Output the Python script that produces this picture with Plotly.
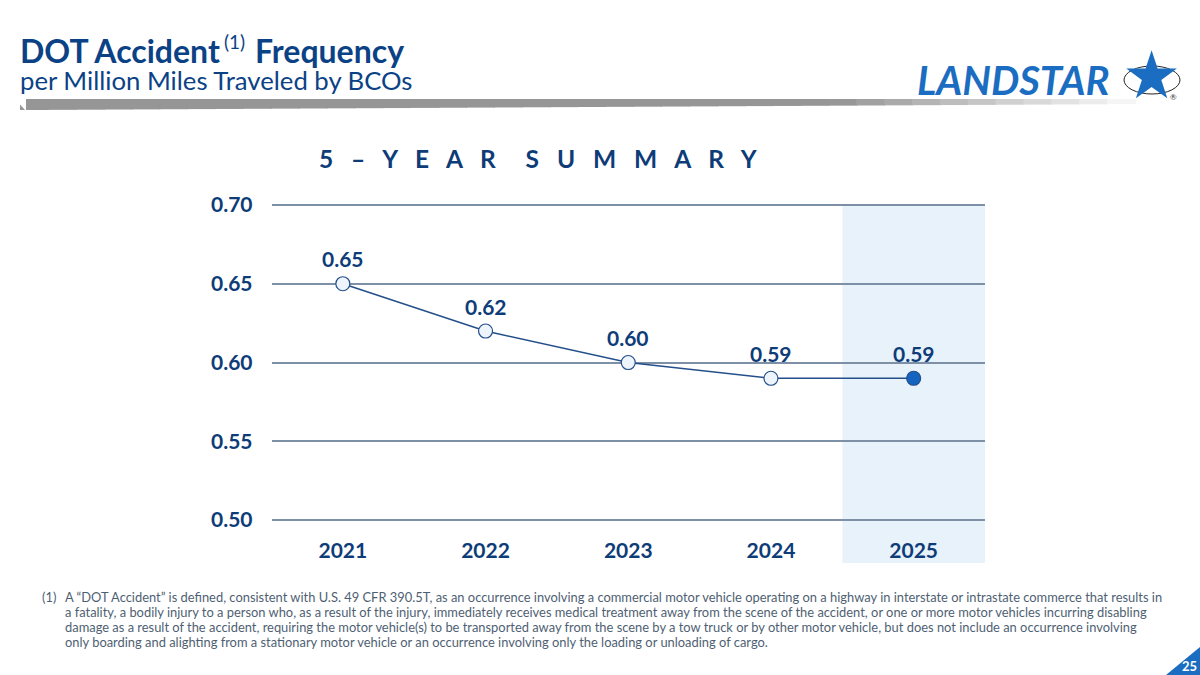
import plotly.graph_objects as go

# data
years = ["2021", "2022", "2023", "2024", "2025"]
frequency = [0.65, 0.62, 0.60, 0.59, 0.59]
labels = ["0.65", "0.62", "0.60", "0.59", "0.59"]
y_ticks = [0.50, 0.55, 0.60, 0.65, 0.70]

footnote_lines = [
    "A \u201cDOT Accident\u201d is defined, consistent with U.S. 49 CFR 390.5T, as an occurrence involving a commercial motor vehicle operating on a highway in interstate or intrastate commerce that results in",
    "a fatality, a bodily injury to a person who, as a result of the injury, immediately receives medical treatment away from the scene of the accident, or one or more motor vehicles incurring disabling",
    "damage as a result of the accident, requiring the motor vehicle(s) to be transported away from the scene by a tow truck or by other motor vehicle, but does not include an occurrence involving",
    "only boarding and alighting from a stationary motor vehicle or an occurrence involving only the loading or unloading of cargo.",
]

W, H = 1200, 675
NAVY = "#0d3c78"
LINE = "#244f8a"
BLUE = "#1b6dc1"
FONT = "Lato"


def px(x):
    return x / W


def py(y):
    return 1 - y / H


fig = go.Figure()

# open markers for history, filled marker for the current year
fills = ["#eef4fb"] * (len(years) - 1) + ["#1565c0"]
fig.add_trace(go.Scatter(
    x=years, y=frequency, mode="lines+markers",
    line=dict(color=LINE, width=1.5),
    marker=dict(size=14, color=fills, line=dict(color=LINE, width=1.2)),
    hoverinfo="skip", showlegend=False,
))

# value labels (category index as x position)
for i, (v, t) in enumerate(zip(frequency, labels)):
    fig.add_annotation(x=i, y=v, text=f"<b>{t}</b>", showarrow=False,
                       yshift=25, font=dict(family=FONT, size=21, color=NAVY))

shapes = []
# highlight band behind 2025
shapes.append(dict(type="rect", xref="x", yref="paper", x0=3.5, x1=4.5,
                   y0=py(563), y1=py(205), fillcolor="#e8f2fb", line_width=0, layer="below"))

# grey swoosh under the title
n = 40
x_start, x_end = 20, 1135
for i in range(n):
    xa = x_start + (x_end - x_start) * i / n
    xb = x_start + (x_end - x_start) * (i + 1) / n + 1
    f = i / n
    g = int(150 + 105 * max(0, (f - 0.72) / 0.28))
    thick = 11 - 6 * f
    shapes.append(dict(type="rect", xref="paper", yref="paper",
                       x0=px(xa), x1=px(xb), y0=py(99 + thick), y1=py(99),
                       fillcolor=f"rgb({g},{g},{g})", line_width=0))
shapes.append(dict(type="path", xref="paper", yref="paper",
                   path=f"M {px(14)} {py(98)} L {px(26)} {py(98)} L {px(26)} {py(111)} Z",
                   fillcolor="white", line_width=0))

# logo ellipse
shapes.append(dict(type="circle", xref="paper", yref="paper",
                   x0=px(1124), x1=px(1180), y0=py(94), y1=py(66),
                   line=dict(color="#222222", width=1), fillcolor="rgba(0,0,0,0)"))

# page number triangle
shapes.append(dict(type="path", xref="paper", yref="paper",
                   path=f"M {px(1166)} {py(675)} L {px(1200)} {py(647)} L {px(1200)} {py(675)} Z",
                   fillcolor=BLUE, line_width=0))

fig.update_layout(shapes=shapes)

# title block (pieces so the footnote marker sits high)
fig.add_annotation(xref="paper", yref="paper", x=px(18), y=py(50), xanchor="left", yanchor="middle",
                   text="<b>DOT Accident</b>", showarrow=False,
                   font=dict(family=FONT, size=32, color="#0b4286"))
fig.add_annotation(xref="paper", yref="paper", x=px(222), y=py(42), xanchor="left", yanchor="middle",
                   text="(1)", showarrow=False,
                   font=dict(family=FONT, size=19, color="#0b4286"))
fig.add_annotation(xref="paper", yref="paper", x=px(253), y=py(50), xanchor="left", yanchor="middle",
                   text="<b>Frequency</b>", showarrow=False,
                   font=dict(family=FONT, size=32, color="#0b4286"))
fig.add_annotation(xref="paper", yref="paper", x=px(18), y=py(80), xanchor="left", yanchor="middle",
                   text="per Million Miles Traveled by BCOs",
                   showarrow=False, font=dict(family=FONT, size=25.7, color="#0b4286"))

# logo
fig.add_annotation(xref="paper", yref="paper", x=px(1112), y=py(80), xanchor="right", yanchor="middle",
                   text="<b><i>LANDSTAR</i></b>", showarrow=False,
                   font=dict(family=FONT, size=40, color=BLUE, weight=900))
fig.add_annotation(xref="paper", yref="paper", x=px(1151), y=py(75), xanchor="center", yanchor="middle",
                   text="\u2605", showarrow=False,
                   font=dict(family="DejaVu Sans", size=66, color=BLUE))
fig.add_annotation(xref="paper", yref="paper", x=px(1173), y=py(97), xanchor="center", yanchor="middle",
                   text="\u00ae", showarrow=False, font=dict(family=FONT, size=8, color="#333333"))

# chart heading, letter-spaced
sp = "\u00a0" * 3
heading = sp.join("5\u2013YEAR") + "\u00a0" * 5 + sp.join("SUMMARY")
fig.add_annotation(xref="paper", yref="paper", x=px(538), y=py(159), xanchor="center", yanchor="middle",
                   text=f"<b>{heading}</b>", showarrow=False,
                   font=dict(family=FONT, size=24.5, color=NAVY))

# footnote
fig.add_annotation(xref="paper", yref="paper", x=px(40), y=py(597), xanchor="left", yanchor="middle",
                   text="(1)", showarrow=False, font=dict(family=FONT, size=12.9, color="#4f5f73"))
for i, line in enumerate(footnote_lines):
    fig.add_annotation(xref="paper", yref="paper", x=px(63), y=py(597 + 15 * i),
                       xanchor="left", yanchor="middle", text=line, showarrow=False,
                       font=dict(family=FONT, size=12.9, color="#4f5f73"))

# page number
fig.add_annotation(xref="paper", yref="paper", x=px(1189), y=py(666), xanchor="center", yanchor="middle",
                   text="<b>25</b>", showarrow=False, font=dict(family=FONT, size=13, color="white"))

# pixel scale: 315 px per 0.20, pad range a hair so edge gridlines draw
pad = 0.001
fig.update_xaxes(
    domain=[px(271.5), px(985)], range=[-0.5, 4.5], type="category",
    showgrid=False, zeroline=False, showline=False, ticks="", automargin=False,
    tickfont=dict(family=FONT, size=21, color=NAVY, weight="bold"),
    ticklabelstandoff=14, fixedrange=True,
)
fig.update_yaxes(
    domain=[py(520 + pad * 1575), py(205 - pad * 1575)], range=[0.50 - pad, 0.70 + pad],
    tickvals=y_ticks, tickformat=".2f", showgrid=True, gridcolor="#7d90a6", gridwidth=1.5,
    zeroline=False, showline=False, ticks="", automargin=False,
    tickfont=dict(family=FONT, size=21, color=NAVY, weight="bold"),
    ticklabelstandoff=18, fixedrange=True,
)

fig.update_layout(
    width=W, height=H,
    margin=dict(l=0, r=0, t=0, b=0, pad=0),
    paper_bgcolor="white", plot_bgcolor="rgba(0,0,0,0)",
    showlegend=False,
)

fig.write_html("out.html", config={"displayModeBar": False},
               post_script="document.body.style.margin='0';document.body.style.overflow='hidden';")
